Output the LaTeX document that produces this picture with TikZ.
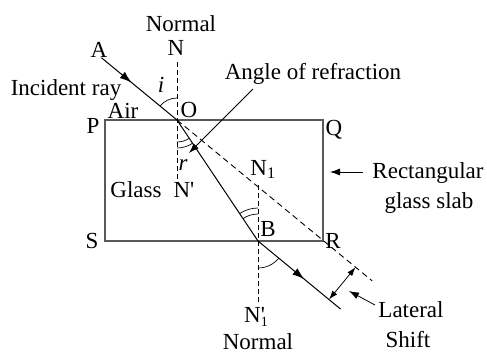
\documentclass[tikz,border=0pt]{standalone}
\usepackage{fontspec}
\setmainfont{Liberation Serif}
\usetikzlibrary{arrows.meta,decorations.markings}
\tikzset{
  ray/.style={line width=1pt,black},
  slab/.style={line width=1.3pt,draw=black!65},
  normalline/.style={line width=0.8pt,dash pattern=on 5pt off 3pt},
  extline/.style={line width=0.9pt,dash pattern=on 6pt off 4pt},
  anglearc/.style={line width=0.7pt},
  midarrow/.style={postaction={decorate},decoration={markings,
     mark=at position #1 with {\arrow{Latex[length=12pt,width=8pt]}}}},
  pointer/.style={line width=0.8pt,-{Latex[length=10pt,width=7pt]}},
  lbl/.style={anchor=base,inner sep=0pt,font=\fontsize{23}{27}\selectfont},
}
\newcommand{\smallfs}{\fontsize{14}{14}\selectfont}
\begin{document}
\begin{tikzpicture}[x=1pt,y=-1pt]
\useasboundingbox (0,0) rectangle (487,354);
% slab
\coordinate (P) at (105,120);
\coordinate (Q) at (323,120);
\coordinate (R) at (323,241);
\coordinate (S) at (105,241);
\draw[slab] (P) -- (Q) -- (R) -- (S) -- cycle;
% key points
\coordinate (O) at (177,120);
\coordinate (B) at (258,241);
\coordinate (A) at (101.4,57.7);
\coordinate (E) at (340.6,309.1);
\coordinate (D) at (372.2,280.9);
\coordinate (Ntop) at (177,62);
\coordinate (Nbot) at (177,179);
\coordinate (N1top) at (258,185);
\coordinate (N1bot) at (258,302);
% normals
\draw[normalline] (Ntop) -- (Nbot);
\draw[normalline] (N1top) -- (N1bot);
% rays
\draw[ray,midarrow=0.4] (A) -- (O);
\draw[ray] (O) -- (B);
\draw[ray,midarrow=0.56] (B) -- (E);
\draw[extline] (O) -- (D);
% angle arcs
\draw[anglearc] (O) ++(-140.5:22) arc[start angle=-140.5,end angle=-90,radius=22];
\draw[anglearc] (O) ++(56.2:22) arc[start angle=56.2,end angle=90,radius=22];
\draw[anglearc] (O) ++(56.2:28) arc[start angle=56.2,end angle=90,radius=28];
\draw[anglearc] (B) ++(-123.8:27) arc[start angle=-123.8,end angle=-90,radius=27];
\draw[anglearc] (B) ++(-123.8:33) arc[start angle=-123.8,end angle=-90,radius=33];
\draw[anglearc] (B) ++(39.5:27) arc[start angle=39.5,end angle=90,radius=27];
% lateral shift
\coordinate (F) at (329,299.5);
\coordinate (G) at (355.6,267.2);
\draw[line width=0.8pt,{Latex[length=9pt,width=6pt]}-{Latex[length=9pt,width=6pt]}] (F) -- (G);
\coordinate (Ls) at (375,305);
\coordinate (Le) at (349,291);
\draw[pointer] (Ls) -- (Le);
% pointers
\coordinate (Rs) at (363,172);
\coordinate (Re) at (330,172);
\draw[pointer] (Rs) -- (Re);
\coordinate (As) at (253,89);
\coordinate (Ae) at (189,153);
\draw[pointer] (As) -- (Ae);
% labels
\node[lbl] (tNormal) at (181,31) {Normal};
\node[lbl] (tN) at (176,55) {N};
\node[lbl] (tA) at (99,57) {A};
\node[lbl] (tInc) at (66,95) {Incident ray};
\node[lbl] (ti) at (161,92) {\itshape i};
\node[lbl] (tAir) at (123,118) {Air};
\node[lbl] (tO) at (189,117) {O};
\node[lbl] (tP) at (93,133) {P};
\node[lbl] (tQ) at (334,135) {Q};
\node[lbl] (tr) at (183,170) {\itshape r};
\node[lbl] (tGlass) at (136,197) {Glass};
\node[lbl] (tNp) at (184,197) {N\textquotesingle};
\node[lbl] (tS) at (92,248) {S};
\node[lbl] (tN1) at (263,175) {N\textsubscript{1}};
\node[lbl] (tB) at (268,236) {B};
\node[lbl] (tR) at (333,248) {R};
\node[lbl] (tN1p) at (256,322) {N\rlap{\textquotesingle}\raisebox{-4pt}{\smallfs 1}};
\node[lbl] (tNormal2) at (258,349) {Normal};
\node[lbl] (tAngle) at (313,79) {Angle of refraction};
\node[lbl] (tRect) at (428,178) {Rectangular};
\node[lbl] (tSlab) at (429,208) {glass slab};
\node[lbl] (tLat) at (411,317) {Lateral};
\node[lbl] (tShift) at (408,347) {Shift};
\end{tikzpicture}
\end{document}
